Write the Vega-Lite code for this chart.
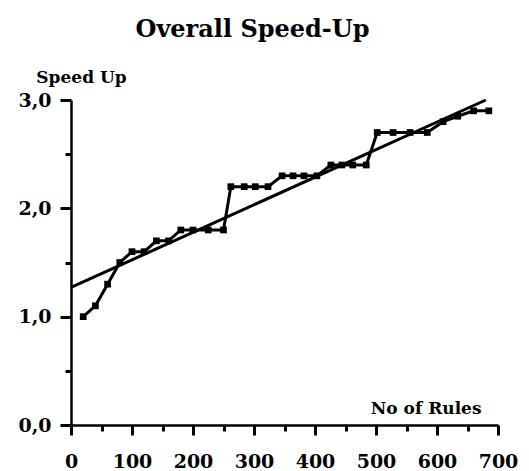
{
  "$schema": "https://vega.github.io/schema/vega-lite/v6.json",
  "width": 427,
  "height": 325,
  "autosize": {"type": "none"},
  "padding": {"left": 71, "top": 100, "right": 31, "bottom": 46},
  "background": "white",
  "title": {
    "text": "Overall Speed-Up",
    "font": "DejaVu Serif",
    "fontSize": 24,
    "fontWeight": "bold",
    "color": "black",
    "anchor": "middle",
    "frame": "group",
    "dx": -32,
    "offset": 26
  },
  "config": {
    "view": {"stroke": null},
    "axis": {
      "grid": false,
      "domainColor": "black",
      "domainWidth": 2.5,
      "tickColor": "black",
      "tickWidth": 3,
      "labelFont": "DejaVu Serif",
      "labelFontWeight": "bold",
      "labelFontSize": 19,
      "labelColor": "black",
      "titleFont": "DejaVu Serif",
      "titleFontWeight": "bold",
      "titleFontSize": 17,
      "titleColor": "black"
    }
  },
  "resolve": {"axis": {"x": "independent", "y": "independent"}},
  "layer": [
    {
      "data": {
        "values": [
          {"rules": 20, "speedup": 1.0},
          {"rules": 40, "speedup": 1.1},
          {"rules": 60, "speedup": 1.3},
          {"rules": 80, "speedup": 1.5},
          {"rules": 100, "speedup": 1.6},
          {"rules": 120, "speedup": 1.6},
          {"rules": 140, "speedup": 1.7},
          {"rules": 160, "speedup": 1.7},
          {"rules": 180, "speedup": 1.8},
          {"rules": 200, "speedup": 1.8},
          {"rules": 225, "speedup": 1.8},
          {"rules": 250, "speedup": 1.8},
          {"rules": 262, "speedup": 2.2},
          {"rules": 284, "speedup": 2.2},
          {"rules": 302, "speedup": 2.2},
          {"rules": 323, "speedup": 2.2},
          {"rules": 346, "speedup": 2.3},
          {"rules": 364, "speedup": 2.3},
          {"rules": 382, "speedup": 2.3},
          {"rules": 403, "speedup": 2.3},
          {"rules": 426, "speedup": 2.4},
          {"rules": 444, "speedup": 2.4},
          {"rules": 462, "speedup": 2.4},
          {"rules": 484, "speedup": 2.4},
          {"rules": 502, "speedup": 2.7},
          {"rules": 528, "speedup": 2.7},
          {"rules": 556, "speedup": 2.7},
          {"rules": 584, "speedup": 2.7},
          {"rules": 610, "speedup": 2.8},
          {"rules": 634, "speedup": 2.85},
          {"rules": 660, "speedup": 2.9},
          {"rules": 685, "speedup": 2.9}
        ]
      },
      "mark": {
        "type": "line",
        "color": "black",
        "strokeWidth": 3,
        "point": {"shape": "square", "filled": true, "size": 45, "color": "black"}
      },
      "encoding": {
        "x": {
          "field": "rules",
          "type": "quantitative",
          "scale": {"domain": [0, 700], "nice": false, "zero": true},
          "axis": {
            "orient": "bottom",
            "values": [0, 100, 200, 300, 400, 500, 600, 700],
            "tickSize": 10,
            "labelPadding": 17,
            "labelFlush": false,
            "title": "No of Rules",
            "titleAnchor": "end",
            "titleAlign": "right",
            "titleBaseline": "alphabetic",
            "titleX": 410,
            "titleY": -12
          }
        },
        "y": {
          "field": "speedup",
          "type": "quantitative",
          "scale": {"domain": [0, 3], "nice": false},
          "axis": {
            "orient": "left",
            "values": [0, 1, 2, 3],
            "tickSize": 11,
            "labelPadding": 9,
            "labelFlush": false,
            "labelExpr": "replace(format(datum.value, '.1f'), '.', ',')",
            "title": "Speed Up",
            "titleAngle": 0,
            "titleAlign": "center",
            "titleBaseline": "alphabetic",
            "titleX": 10,
            "titleY": -18
          }
        }
      }
    },
    {
      "data": {
        "values": [
          {"rules": 0, "speedup": 1.27},
          {"rules": 680, "speedup": 3.0}
        ]
      },
      "mark": {"type": "line", "color": "black", "strokeWidth": 3},
      "encoding": {
        "x": {
          "field": "rules",
          "type": "quantitative",
          "axis": {
            "orient": "bottom",
            "values": [50, 150, 250, 350, 450, 550, 650],
            "tickSize": 6,
            "labels": false,
            "domain": false,
            "title": null
          }
        },
        "y": {
          "field": "speedup",
          "type": "quantitative",
          "axis": {
            "orient": "left",
            "values": [0.5, 1.5, 2.5],
            "tickSize": 6,
            "labels": false,
            "domain": false,
            "title": null
          }
        }
      }
    }
  ]
}
